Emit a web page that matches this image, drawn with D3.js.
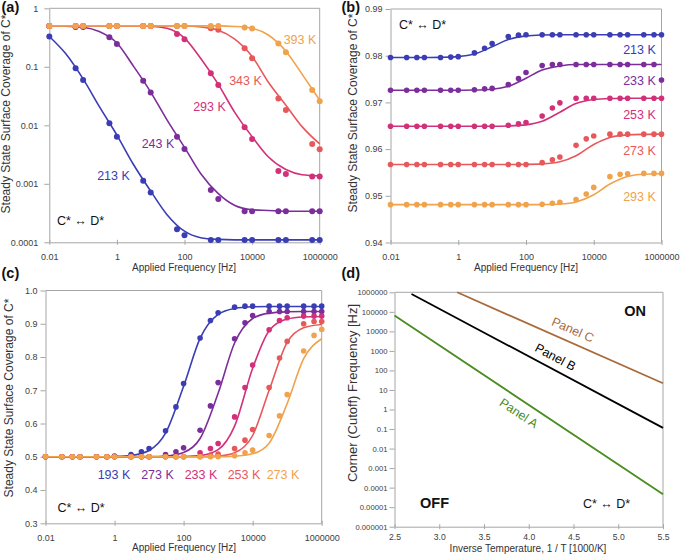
<!DOCTYPE html>
<html><head><meta charset="utf-8">
<script src="https://cdn.jsdelivr.net/npm/d3@7"></script>
<style>body{margin:0;background:#fff}svg{display:block}</style>
</head><body><svg id="c" width="680" height="556"></svg>
<script>
// ---------------- DATA ----------------
const freqA = [0.01,0.06,0.1,0.6,1,6,10,60,100,600,1000,6000,10000,60000,100000,600000,1000000];
const freqBC = [0.01,0.03,0.06,0.1,0.3,0.6,1,3,6,10,30,60,100,300,600,1000,3000,6000,10000,30000,60000,100000,300000,600000,1000000];
const fitFreq = [0.01,0.03,0.1,0.3,1,3,10,30,100,300,1000,3000,10000,30000,100000,300000,1000000];

// Panel (a)
const labelsA = ["213 K","243 K","293 K","343 K","393 K"];
const a213 = [0.328,0.094,0.0596,0.0108,0.0064,0.00113,0.00071,0.000167,0.000132,0.00011,0.00011,0.00011,0.00011,0.00011,0.00011,0.00011,0.00011];
const a243 = [0.5,0.48,0.48,0.319,0.246,0.058,0.0362,0.0064,0.00394,0.000785,0.00055,0.00034,0.00034,0.00034,0.00034,0.00034,0.00034];
const a293 = [0.5,0.5,0.5,0.5,0.5,0.5,0.5,0.364,0.295,0.0774,0.049,0.00925,0.00584,0.00165,0.00147,0.00133,0.00133];
const a343 = [0.5,0.5,0.5,0.5,0.5,0.5,0.5,0.5,0.5,0.455,0.43,0.207,0.14,0.0286,0.0183,0.0048,0.0039];
const a393 = [0.5,0.5,0.5,0.5,0.5,0.5,0.5,0.5,0.5,0.5,0.5,0.47,0.45,0.25,0.177,0.040,0.0257];
const a213Fit = [0.33,0.17,0.062,0.021,0.0068,0.0022,0.00075,0.0003,0.000155,0.00012,0.000112,0.00011,0.00011,0.00011,0.00011,0.00011,0.00011];
const a243Fit = [0.5,0.496,0.475,0.40,0.255,0.105,0.037,0.0125,0.0042,0.0015,0.00068,0.00043,0.00036,0.00035,0.00034,0.00034,0.00034];
const a293Fit = [0.5,0.5,0.5,0.5,0.5,0.499,0.493,0.455,0.31,0.14,0.05,0.017,0.0064,0.0029,0.00175,0.00143,0.00137];
const a343Fit = [0.5,0.5,0.5,0.5,0.5,0.5,0.5,0.5,0.497,0.48,0.42,0.30,0.15,0.055,0.022,0.0095,0.0048];
const a393Fit = [0.5,0.5,0.5,0.5,0.5,0.5,0.5,0.5,0.5,0.5,0.5,0.49,0.455,0.35,0.185,0.075,0.027];
const yTicksA = [1,0.1,0.01,0.001,0.0001];
const yLabelsA = ["1","0.1","0.01","0.001","0.0001"];

// Panel (b)
const labelsB = ["213 K","233 K","253 K","273 K","293 K"];
const b213 = [0.9796,0.9796,0.9796,0.9796,0.9796,0.9797,0.9798,0.9806,0.9816,0.9826,0.9841,0.9844,0.9845,0.9845,0.9845,0.9845,0.9845,0.9845,0.9845,0.9845,0.9845,0.9845,0.9845,0.9845,0.9845];
const b233 = [0.9726,0.9726,0.9726,0.9726,0.9726,0.9726,0.9726,0.9727,0.9729,0.9730,0.9738,0.9751,0.9764,0.9779,0.9781,0.9781,0.9781,0.9781,0.9781,0.9781,0.9781,0.9781,0.9781,0.9781,0.9748];
const b253 = [0.9649,0.9649,0.9649,0.9649,0.9649,0.9649,0.9649,0.9649,0.9649,0.9649,0.9651,0.9654,0.9657,0.9671,0.9688,0.9699,0.9709,0.9709,0.9709,0.9709,0.9709,0.9709,0.9709,0.9709,0.9709];
const b273 = [0.9567,0.9567,0.9567,0.9567,0.9567,0.9567,0.9567,0.9567,0.9567,0.9567,0.9567,0.9567,0.9567,0.9571,0.9577,0.9583,0.9608,0.9622,0.9628,0.9632,0.9632,0.9632,0.9632,0.9632,0.9632];
const b293 = [0.9481,0.9481,0.9481,0.9481,0.9481,0.9481,0.9481,0.9481,0.9481,0.9481,0.9481,0.9481,0.9481,0.9482,0.9484,0.9486,0.9492,0.9504,0.9518,0.9541,0.9546,0.9547,0.9548,0.9548,0.9548];
const b213Fit = [0.9796,0.9796,0.97961,0.97965,0.97981,0.98036,0.9819,0.98346,0.98424,0.98444,0.9845,0.9845,0.9845,0.9845,0.9845,0.9845,0.9845];
const b233Fit = [0.9726,0.9726,0.9726,0.9726,0.97261,0.97265,0.97283,0.97346,0.97518,0.97693,0.9778,0.9781,0.9781,0.9781,0.9781,0.9781,0.9781];
const b253Fit = [0.9649,0.9649,0.9649,0.9649,0.9649,0.9649,0.9649,0.96496,0.96519,0.96594,0.9679,0.96974,0.97061,0.97083,0.97089,0.9709,0.9709];
const b273Fit = [0.9567,0.9567,0.9567,0.9567,0.9567,0.9567,0.9567,0.9567,0.95673,0.95683,0.95728,0.95858,0.96099,0.96249,0.96304,0.96316,0.9632];
const b293Fit = [0.9481,0.9481,0.9481,0.9481,0.9481,0.9481,0.9481,0.9481,0.9481,0.94813,0.94825,0.94869,0.95023,0.95252,0.95415,0.95463,0.95472];
const yTicksB = [0.99,0.98,0.97,0.96,0.95,0.94];
const yLabelsB = ["0.99","0.98","0.97","0.96","0.95","0.94"];

// Panel (c)
const labelsC = ["193 K","273 K","233 K","253 K","273 K"];
const c193 = [0.5,0.5,0.5,0.5,0.5,0.5,0.502,0.507,0.515,0.525,0.578,0.65,0.72,0.857,0.91,0.933,0.95,0.953,0.953,0.953,0.953,0.953,0.953,0.953,0.953];
const c273a = [0.5,0.5,0.5,0.5,0.5,0.5,0.5,0.5,0.5,0.5,0.507,0.515,0.527,0.58,0.653,0.723,0.855,0.903,0.925,0.937,0.937,0.937,0.937,0.937,0.937];
const c233 = [0.5,0.5,0.5,0.5,0.5,0.5,0.5,0.5,0.5,0.5,0.5,0.5,0.5,0.512,0.525,0.54,0.62,0.708,0.776,0.882,0.91,0.918,0.923,0.923,0.923];
const c253 = [0.5,0.5,0.5,0.5,0.5,0.5,0.5,0.5,0.5,0.5,0.5,0.5,0.5,0.5,0.505,0.508,0.525,0.55,0.582,0.708,0.797,0.847,0.90,0.907,0.907];
const c273b = [0.5,0.5,0.5,0.5,0.5,0.5,0.5,0.5,0.5,0.5,0.5,0.5,0.5,0.5,0.5,0.5,0.503,0.512,0.52,0.564,0.623,0.687,0.818,0.865,0.883];
const c193Fit = [0.5,0.5,0.5,0.5,0.501,0.504,0.519,0.571,0.712,0.856,0.928,0.946,0.951,0.952,0.952,0.952,0.952];
const c273aFit = [0.5,0.5,0.5,0.5,0.5,0.5,0.5005,0.5025,0.513,0.555,0.691,0.842,0.9157,0.932,0.936,0.937,0.937];
const c233Fit = [0.5,0.5,0.5,0.5,0.5,0.5,0.5,0.5,0.5007,0.5037,0.5216,0.5924,0.7662,0.8793,0.9144,0.9205,0.922];
const c253Fit = [0.5,0.5,0.5,0.5,0.5,0.5,0.5,0.5,0.5,0.5,0.502,0.512,0.564,0.70,0.844,0.888,0.898];
const c273bFit = [0.5,0.5,0.5,0.5,0.5,0.5,0.5,0.5,0.5,0.5,0.5,0.5015,0.509,0.541,0.66,0.795,0.855];
const yTicksC = [1.0,0.9,0.8,0.7,0.6,0.5,0.4,0.3];
const yLabelsC = ["1.0","0.9","0.8","0.7","0.6","0.5","0.4","0.3"];

const xTicksF = [0.01,1,100,10000,1000000];
const xLabelsF = ["0.01","1","100","10000","1000000"];

// Panel (d)
const labelsD = ["Panel A","Panel B","Panel C"];
const dA_T = [2.5,5.5],  dA_F = [64000,0.000046];
const dB_T = [2.69,5.5], dB_F = [820000,0.115];
const dC_T = [3.2,5.5],  dC_F = [1000000,22];
const xTicksD = [2.5,3.0,3.5,4.0,4.5,5.0,5.5];
const xLabelsD = ["2.5","3.0","3.5","4.0","4.5","5.0","5.5"];
const yTicksD = [1e6,1e5,1e4,1e3,100,10,1,0.1,0.01,0.001,0.0001,0.00001,0.000001];
const yLabelsD = ["1000000","100000","10000","1000","100","10","1","0.1","0.01","0.001","0.0001","0.00001","0.000001"];

// ---------------- DRAWING ----------------
const FONT = '"Liberation Sans", Arial, Helvetica, sans-serif';
const AXIS = '#a6a6a6', TXT = '#404040';
const COL = {blue:'#3a3db3', purple:'#7b2e9b', magenta:'#d3307a', red:'#e8585b', orange:'#f1a24c',
             green:'#4a8d1f', black:'#000000', brown:'#a96a3b'};
const svg = d3.select('#c').style('font-family', FONT);

function frame(x, y, o) {
  const [xl, xr] = x.range(), [yb, yt] = y.range();
  const g = svg.append('g');
  g.append('path').attr('d', `M${xl},${yt}H${xr}V${yb}`).attr('fill','none').attr('stroke',AXIS).attr('stroke-width',1);
  const ya = g.append('g').attr('transform',`translate(${xl},0)`)
    .call(d3.axisLeft(y).tickValues(o.yT).tickFormat((d,i)=>o.yL[i]).tickSize(5).tickSizeOuter(0).tickPadding(o.yPad));
  const xa = g.append('g').attr('transform',`translate(0,${yb})`)
    .call(d3.axisBottom(x).tickValues(o.xT).tickFormat((d,i)=>o.xL[i]).tickSize(3).tickSizeOuter(0));
  [ya, xa].forEach(a => {
    a.attr('font-family', FONT);
    a.select('.domain').attr('stroke', AXIS);
    a.selectAll('.tick line').attr('stroke', AXIS);
    a.selectAll('.tick text').attr('fill', TXT);
  });
  ya.selectAll('.tick text').attr('font-size', o.yFs);
  xa.selectAll('.tick line').attr('y1', -2.5).attr('y2', 2.5);
  xa.selectAll('.tick text').attr('font-size', o.xFs).attr('y', o.xOff).attr('dy', null);
  return g;
}
function txt(x, y, s, o) {
  const t = svg.append('text').attr('x', x).attr('y', y).text(s)
    .attr('font-size', o.fs || 12.5).attr('fill', o.fill || '#222')
    .attr('text-anchor', o.anchor || 'middle').attr('dominant-baseline', o.db || 'auto');
  if (o.bold) t.attr('font-weight', 'bold');
  if (o.rot !== undefined) t.attr('transform', `rotate(${o.rot},${x},${y})`);
  return t;
}
function series(x, y, fx, fit, px, pts, color, r) {
  const line = d3.line().x(d=>x(d[0])).y(d=>y(d[1])).curve(d3.curveMonotoneX);
  svg.append('path').datum(d3.zip(fx, fit)).attr('d', line)
    .attr('fill','none').attr('stroke', color).attr('stroke-width', 1.6);
  svg.append('g').selectAll('circle').data(d3.zip(px, pts)).join('circle')
    .attr('cx', d=>x(d[0])).attr('cy', d=>y(d[1])).attr('r', r).attr('fill', color);
}

// ----- Panel (a)
{
  const x = d3.scaleLog().domain([0.01, 1e6]).range([49.3, 319.7]);
  const y = d3.scaleLog().domain([0.0001, 1]).range([242.3, 8.3]);
  frame(x, y, {xT:xTicksF, xL:xLabelsF, yT:yTicksA, yL:yLabelsA, yPad:6, yFs:9, xFs:9, xOff:17.5});
  const S = [[a213,a213Fit,COL.blue],[a243,a243Fit,COL.purple],[a293,a293Fit,COL.magenta],[a343,a343Fit,COL.red],[a393,a393Fit,COL.orange]];
  S.forEach(s => series(x, y, fitFreq, s[1], freqA, s[0], s[2], 3));
  const pos = [[113.5,176],[158,144],[209.5,107],[245.5,81],[300,40]];
  labelsA.forEach((l,i)=>txt(pos[i][0], pos[i][1], l, {fill:S[i][2], db:'central'}));
  txt(80.5, 221, 'C* \u2194 D*', {fill:'#111', db:'central'});
  txt(1.5, 12, '(a)', {fs:14.5, bold:true, anchor:'start', fill:'#111'});
  txt(9.5, 114, 'Steady State Surface Coverage of C*', {fs:12, rot:-90, fill:'#333'});
  txt(184, 270.5, 'Applied Frequency [Hz]', {fs:10, fill:'#333'});
}
// ----- Panel (b)
{
  const x = d3.scaleLog().domain([0.01, 1e6]).range([390.5, 661.5]);
  const y = d3.scaleLinear().domain([0.94, 0.99]).range([242.5, 9]);
  frame(x, y, {xT:xTicksF, xL:xLabelsF, yT:yTicksB, yL:yLabelsB, yPad:3, yFs:9, xFs:9, xOff:17.5});
  const S = [[b213,b213Fit,COL.blue],[b233,b233Fit,COL.purple],[b253,b253Fit,COL.magenta],[b273,b273Fit,COL.red],[b293,b293Fit,COL.orange]];
  S.forEach(s => series(x, y, fitFreq, s[1], freqBC, s[0], s[2], 2.8));
  const ly = [50,81,115,151,197];
  labelsB.forEach((l,i)=>txt(639.5, ly[i], l, {fill:S[i][2], db:'central'}));
  txt(422.5, 25, 'C* \u2194 D*', {fill:'#111', db:'central'});
  txt(341.5, 12, '(b)', {fs:14.5, bold:true, anchor:'start', fill:'#111'});
  txt(356.5, 113, 'Steady State Surface Coverage of C*', {fs:12, rot:-90, fill:'#333'});
  txt(526, 270.5, 'Applied Frequency [Hz]', {fs:10, fill:'#333'});
}
// ----- Panel (c)
{
  const x = d3.scaleLog().domain([0.01, 1e6]).range([45.5, 321.7]);
  const y = d3.scaleLinear().domain([0.3, 1.0]).range([523.3, 290.5]);
  frame(x, y, {xT:xTicksF, xL:xLabelsF, yT:yTicksC, yL:yLabelsC, yPad:3, yFs:9, xFs:9, xOff:17.5});
  const S = [[c193,c193Fit,COL.blue],[c273a,c273aFit,COL.purple],[c233,c233Fit,COL.magenta],[c253,c253Fit,COL.red],[c273b,c273bFit,COL.orange]];
  S.forEach(s => series(x, y, fitFreq, s[1], freqBC, s[0], s[2], 2.8));
  const lx = [114,157.5,201,244,283];
  labelsC.forEach((l,i)=>txt(lx[i], 475, l, {fill:S[i][2], db:'central'}));
  txt(81, 507.7, 'C* \u2194 D*', {fill:'#111', db:'central'});
  txt(1.5, 278, '(c)', {fs:14.5, bold:true, anchor:'start', fill:'#111'});
  txt(12.5, 398, 'Steady State Surface Coverage of C*', {fs:12, rot:-90, fill:'#333'});
  txt(184, 550.5, 'Applied Frequency [Hz]', {fs:10, fill:'#333'});
}
// ----- Panel (d)
{
  const x = d3.scaleLinear().domain([2.5, 5.5]).range([394.5, 663]);
  const y = d3.scaleLog().domain([1e-6, 1e6]).range([526.7, 292.3]);
  frame(x, y, {xT:xTicksD, xL:xLabelsD, yT:yTicksD, yL:yLabelsD, yPad:2, yFs:7.7, xFs:8.6, xOff:13});
  const L = [[dA_T,dA_F,COL.green],[dB_T,dB_F,COL.black],[dC_T,dC_F,COL.brown]];
  const line = d3.line().x(d=>x(d[0])).y(d=>y(d[1]));
  L.forEach(l => svg.append('path').datum(d3.zip(l[0], l[1])).attr('d', line)
    .attr('fill','none').attr('stroke', l[2]).attr('stroke-width', 1.8));
  const pos = [[518.7,413.3],[555.3,357.3],[572.7,330]];
  L.forEach((l,i) => {
    const ang = Math.atan2(y(l[1][1]) - y(l[1][0]), x(l[0][1]) - x(l[0][0])) * 180 / Math.PI;
    txt(pos[i][0], pos[i][1], labelsD[i], {fill:l[2], db:'central', rot:ang});
  });
  txt(635, 311, 'ON', {fs:14.5, bold:true, fill:'#111', db:'central'});
  txt(434.5, 503, 'OFF', {fs:14.5, bold:true, fill:'#111', db:'central'});
  txt(606.5, 504, 'C* \u2194 D*', {fill:'#111', db:'central'});
  txt(341.5, 278, '(d)', {fs:14.5, bold:true, anchor:'start', fill:'#111'});
  txt(357, 393, 'Corner (Cutoff) Frequency [Hz]', {fs:13, rot:-90, fill:'#333'});
  txt(528, 551.5, 'Inverse Temperature, 1 / T [1000/K]', {fs:10, fill:'#333'});
}
</script>
</body></html>
